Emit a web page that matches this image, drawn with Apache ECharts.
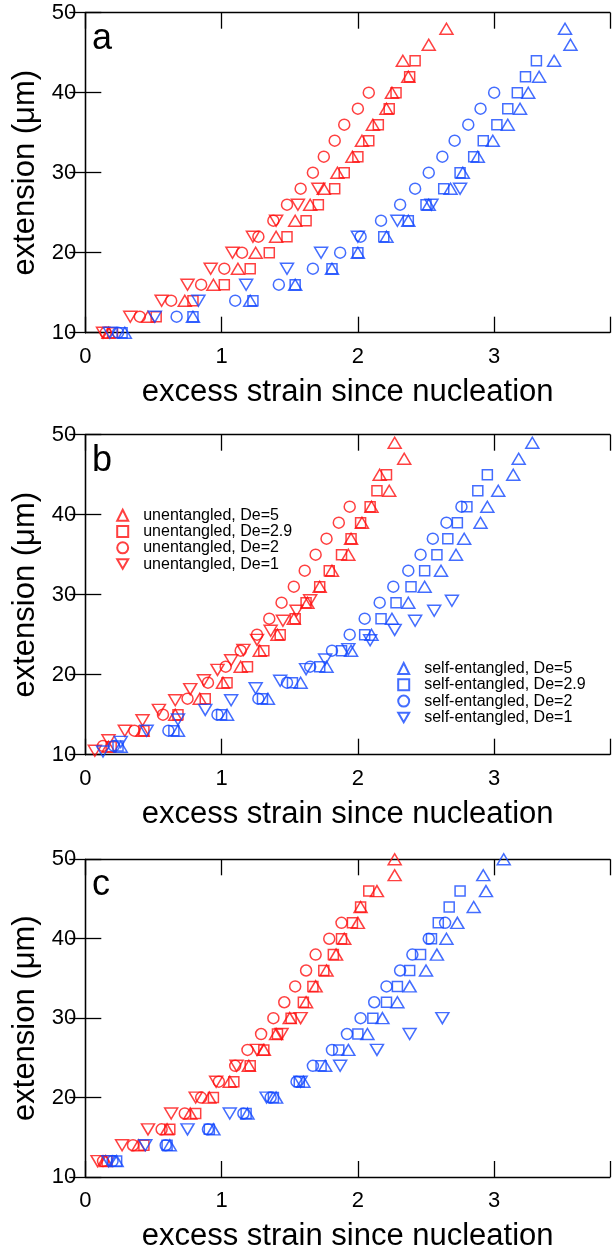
<!DOCTYPE html>
<html><head><meta charset="utf-8">
<script src="https://cdn.jsdelivr.net/npm/echarts@6/dist/echarts.min.js"></script>
<style>html,body{margin:0;padding:0;background:#fff}#c{width:613px;height:1253px}</style>
</head><body><div id="c"></div>
<script>
// ---------- tick labels / axes ----------
const xTickValues = [0, 1, 2, 3];
const yTickValues = [10, 20, 30, 40, 50];
const panelLabels = ['a', 'b', 'c'];
const xTitle = 'excess strain since nucleation';
const yTitle = 'extension (\u03bcm)';
const unNames = ['unentangled, De=5', 'unentangled, De=2.9', 'unentangled, De=2', 'unentangled, De=1'];
const seNames = ['self-entangled, De=5', 'self-entangled, De=2.9', 'self-entangled, De=2', 'self-entangled, De=1'];

// ---------- panel a ----------
const aUn5 = [[0.17,10],[0.46,12],[0.73,14],[0.94,16],[1.12,18],[1.25,20],[1.40,22],[1.54,24],[1.65,26],[1.75,28],[1.85,30],[1.96,32],[2.03,34],[2.11,36],[2.21,38],[2.25,40],[2.37,42],[2.33,44],[2.52,46],[2.65,48]];
const aUn29 = [[0.20,10],[0.52,12],[0.79,14],[1.02,16],[1.21,18],[1.35,20],[1.48,22],[1.62,24],[1.71,26],[1.83,28],[1.90,30],[2.00,32],[2.08,34],[2.15,36],[2.23,38],[2.28,40],[2.38,42],[2.42,44]];
const aUn2 = [[0.15,10],[0.40,12],[0.63,14],[0.85,16],[1.02,18],[1.15,20],[1.27,22],[1.38,24],[1.48,26],[1.58,28],[1.67,30],[1.75,32],[1.83,34],[1.90,36],[2.00,38],[2.08,40]];
const aUn1 = [[0.13,10],[0.33,12],[0.56,14],[0.75,16],[0.92,18],[1.08,20],[1.23,22],[1.40,24],[1.56,26],[1.71,28]];
const aSe5 = [[0.29,10],[0.79,12],[1.21,14],[1.54,16],[1.81,18],[2.00,20],[2.21,22],[2.37,24],[2.52,26],[2.68,28],[2.77,30],[2.88,32],[2.99,34],[3.10,36],[3.19,38],[3.25,40],[3.33,42],[3.44,44],[3.56,46],[3.52,48]];
const aSe29 = [[0.27,10],[0.79,12],[1.23,14],[1.54,16],[1.81,18],[2.00,20],[2.19,22],[2.37,24],[2.50,26],[2.63,28],[2.75,30],[2.85,32],[2.92,34],[3.02,36],[3.10,38],[3.17,40],[3.23,42],[3.31,44]];
const aSe2 = [[0.24,10],[0.67,12],[1.10,14],[1.42,16],[1.67,18],[1.87,20],[2.02,22],[2.17,24],[2.31,26],[2.42,28],[2.52,30],[2.62,32],[2.71,34],[2.81,36],[2.90,38],[3.00,40]];
const aSe1 = [[0.18,10],[0.51,12],[0.83,14],[1.18,16],[1.48,18],[1.73,20],[2.00,22],[2.29,24],[2.54,26],[2.75,28]];

// ---------- panel b ----------
const bUn5 = [[0.17,11],[0.42,13],[0.66,15],[0.84,17],[1.01,19],[1.14,21],[1.28,23],[1.41,25],[1.53,27],[1.63,29],[1.72,31],[1.81,33],[1.93,35],[1.95,37],[2.03,39],[2.10,41],[2.23,43],[2.16,45],[2.34,47],[2.27,49]];
const bUn29 = [[0.19,11],[0.43,13],[0.68,15],[0.88,17],[1.04,19],[1.19,21],[1.31,23],[1.43,25],[1.54,27],[1.62,29],[1.72,31],[1.79,33],[1.88,35],[1.95,37],[2.02,39],[2.09,41],[2.14,43],[2.21,45]];
const bUn2 = [[0.13,11.1],[0.36,13],[0.57,15],[0.75,17],[0.90,19],[1.03,21],[1.14,23],[1.26,25],[1.35,27],[1.44,29],[1.53,31],[1.61,33],[1.69,35],[1.77,37],[1.86,39],[1.94,41]];
const bUn1 = [[0.07,10.5],[0.17,11.8],[0.29,13.0],[0.42,14.3],[0.54,15.6],[0.66,16.8],[0.77,18.2],[0.87,19.3],[0.97,20.6],[1.07,21.8],[1.16,23.1],[1.26,24.35],[1.36,25.5],[1.45,26.75],[1.55,28.0],[1.65,29.3]];
const bSe5 = [[0.26,11],[0.68,13],[1.04,15],[1.34,17],[1.58,19],[1.77,21],[1.95,23],[2.10,25],[2.25,27],[2.37,29],[2.49,31],[2.61,33],[2.72,35],[2.78,37],[2.90,39],[2.95,41],[3.03,43],[3.14,45],[3.18,47],[3.28,49]];
const bSe29 = [[0.24,11.1],[0.65,13],[1.00,15],[1.30,17],[1.52,19],[1.72,21],[1.88,23],[2.05,25],[2.17,27],[2.28,29],[2.39,31],[2.49,33],[2.58,35],[2.66,37],[2.73,39],[2.80,41],[2.88,43],[2.95,45]];
const bSe2 = [[0.21,11.1],[0.61,13],[0.97,15],[1.27,17],[1.48,19],[1.65,21],[1.81,23],[1.94,25],[2.05,27],[2.16,29],[2.26,31],[2.37,33],[2.46,35],[2.55,37],[2.65,39],[2.76,41]];
const bSe1 = [[0.13,10.4],[0.26,11.6],[0.45,13.0],[0.68,14.4],[0.88,15.6],[1.07,16.8],[1.25,18.3],[1.43,19.25],[1.62,20.7],[1.76,21.9],[1.93,23.2],[2.09,24.3],[2.27,25.6],[2.42,26.75],[2.56,28],[2.69,29.25]];

// ---------- panel c ----------
const cUn5 = [[0.15,12],[0.39,14],[0.60,16],[0.77,18],[0.91,20],[1.06,22],[1.20,24],[1.31,26],[1.40,28],[1.50,30],[1.62,32],[1.69,34],[1.77,36],[1.84,38],[1.90,40],[2.00,42],[2.02,44],[2.14,46],[2.27,48],[2.27,50]];
const cUn29 = [[0.16,12],[0.43,14],[0.62,16],[0.81,18],[0.94,20],[1.09,22],[1.21,24],[1.31,26],[1.41,28],[1.51,30],[1.60,32],[1.67,34],[1.75,36],[1.82,38],[1.88,40],[1.96,42],[2.02,44],[2.08,46]];
const cUn2 = [[0.13,12],[0.35,14],[0.56,16],[0.73,18],[0.85,20],[0.98,22],[1.10,24],[1.19,26],[1.29,28],[1.38,30],[1.46,32],[1.54,34],[1.62,36],[1.69,38],[1.79,40],[1.88,42]];
const cUn1 = [[0.09,12],[0.27,14],[0.46,16],[0.63,18],[0.81,20],[0.96,22],[1.11,24],[1.26,26],[1.44,28],[1.58,30]];
const cSe5 = [[0.23,12],[0.62,14],[0.94,16],[1.19,18],[1.40,20],[1.60,22],[1.76,24],[1.93,26],[2.07,28],[2.18,30],[2.29,32],[2.38,34],[2.50,36],[2.58,38],[2.65,40],[2.73,42],[2.85,44],[2.94,46],[2.92,48],[3.07,50]];
const cSe29 = [[0.23,12],[0.60,14],[0.91,16],[1.18,18],[1.38,20],[1.57,22],[1.73,24],[1.86,26],[2.00,28],[2.11,30],[2.21,32],[2.29,34],[2.38,36],[2.46,38],[2.54,40],[2.59,42],[2.67,44],[2.75,46]];
const cSe2 = [[0.20,12],[0.59,14],[0.90,16],[1.16,18],[1.36,20],[1.55,22],[1.67,24],[1.81,26],[1.92,28],[2.02,30],[2.12,32],[2.21,34],[2.31,36],[2.40,38],[2.52,40],[2.64,42]];
const cSe1 = [[0.17,12],[0.44,14],[0.75,16],[1.06,18],[1.33,20],[1.58,22],[1.87,24],[2.14,26],[2.38,28],[2.62,30]];

const panelData = [
  [aUn5, aUn29, aUn2, aUn1, aSe5, aSe29, aSe2, aSe1],
  [bUn5, bUn29, bUn2, bUn1, bSe5, bSe29, bSe2, bSe1],
  [cUn5, cUn29, cUn2, cUn1, cSe5, cSe29, cSe2, cSe1]
];

// ---------- styling ----------
const RED = '#ff1010', BLUE = '#1448ff';
const FONT = 'Liberation Sans';
const DOWN_TRI = 'path://M0,0L20,0L10,17.3Z';
const shapeSymbols = ['triangle', 'rect', 'circle', DOWN_TRI];
const shapeSizes = [[13,11],[10,10],[11,11],[13,11]];
const gridTops = [12.7, 434.7, 859.3];
const GRID_LEFT = 85.3, GRID_H = 320, X_MAX = 3.85, PX_PER_X = 138.7;

const grids = [], xAxes = [], yAxes = [], series = [], titles = [];
gridTops.forEach((top, p) => {
  grids.push({left: GRID_LEFT, top: top, width: X_MAX * PX_PER_X, height: GRID_H, containLabel: false});
  const lineStyle = {color: '#000', width: 1.3};
  const tick = {show: true, inside: true, length: 16, lineStyle: lineStyle};
  xAxes.push({
    type: 'value', gridIndex: p, min: 0, max: X_MAX, interval: 1, position: 'bottom',
    axisLine: {show: true, lineStyle: lineStyle}, axisTick: tick, splitLine: {show: false},
    axisLabel: {show: true, margin: 13, fontSize: 22, color: '#000', fontFamily: FONT,
      formatter: v => xTickValues.includes(v) ? String(v) : ''},
    name: xTitle, nameLocation: 'middle', nameGap: 44,
    nameTextStyle: {fontSize: 31, color: '#000', fontFamily: FONT}
  });
  xAxes.push({
    type: 'value', gridIndex: p, min: 0, max: X_MAX, interval: 1, position: 'top',
    axisLine: {show: true, lineStyle: lineStyle}, axisTick: tick, splitLine: {show: false},
    axisLabel: {show: false}
  });
  yAxes.push({
    type: 'value', gridIndex: p, min: 10, max: 50, interval: 10, position: 'left',
    axisLine: {show: true, lineStyle: lineStyle}, axisTick: tick, splitLine: {show: false},
    axisLabel: {show: true, margin: 9, fontSize: 22, color: '#000', fontFamily: FONT,
      formatter: v => yTickValues.includes(v) ? String(v) : ''},
    name: yTitle, nameLocation: 'middle', nameGap: 44, nameRotate: 90,
    nameTextStyle: {fontSize: 31, color: '#000', fontFamily: FONT}
  });
  yAxes.push({
    type: 'value', gridIndex: p, min: 10, max: 50, interval: 10, position: 'right',
    axisLine: {show: true, lineStyle: lineStyle}, axisTick: tick, splitLine: {show: false},
    axisLabel: {show: false}
  });
  titles.push({text: panelLabels[p], left: 92, top: top + 8, padding: 0,
    textStyle: {fontSize: 36, fontWeight: 'normal', color: '#000', fontFamily: FONT}});
  panelData[p].forEach((d, k) => {
    const s = k % 4;
    const col = k < 4 ? RED : BLUE;
    series.push({
      type: 'scatter', name: k < 4 ? unNames[s] : seNames[s],
      xAxisIndex: p * 2, yAxisIndex: p * 2, data: d,
      symbol: shapeSymbols[s], symbolSize: shapeSizes[s],
      itemStyle: {color: 'rgba(0,0,0,0)', borderColor: col, borderWidth: 1.5},
      emphasis: {disabled: true}, silent: true
    });
  });
});

const legendText = {
  fontSize: 16, color: '#000', fontFamily: FONT,
  rich: {t: {fontSize: 16, lineHeight: 18, color: '#000', fontFamily: FONT, padding: [0, 0, 0, 10]}}
};
function makeLegend(names, left, top) {
  return {
    orient: 'vertical', left: left, top: top, padding: 0,
    itemWidth: 11, itemHeight: 11, itemGap: 0.3,
    data: names, textStyle: legendText, selectedMode: false,
    formatter: n => '{t|' + n + '}'
  };
}
const legends = [makeLegend(unNames, 116.2, 507.2), makeLegend(seNames, 397.2, 660.5)];

const chart = echarts.init(document.getElementById('c'), null, {renderer: 'canvas'});
chart.setOption({
  animation: false, backgroundColor: '#fff',
  title: titles, grid: grids, xAxis: xAxes, yAxis: yAxes, legend: legends, series: series
});
</script></body></html>
